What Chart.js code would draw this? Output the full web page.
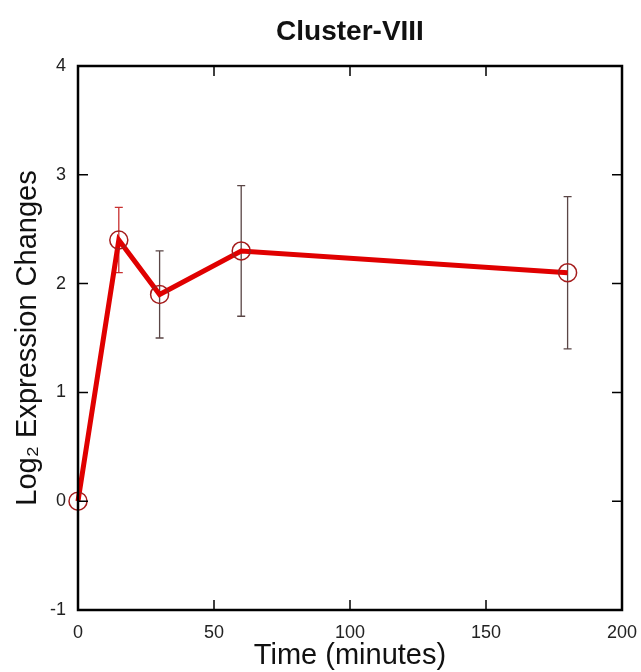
<!DOCTYPE html>
<html>
<head>
<meta charset="utf-8">
<script src="https://cdn.jsdelivr.net/npm/chart.js@4.4.0/dist/chart.umd.min.js"></script>
<style>
  html, body { margin: 0; padding: 0; background: #fff; overflow: hidden; }
  #wrap { width: 641px; height: 672px; }
</style>
</head>
<body>
<div id="wrap"><canvas id="myChart"></canvas></div>
<script>
// time points (minutes) and mean log2 change with error half-widths
const times = [0, 15, 30, 60, 180];
const meanChange = [0, 2.4, 1.9, 2.3, 2.1];
const errorSize = [0, 0.3, 0.4, 0.6, 0.7];
const xTicks = [0, 50, 100, 150, 200];
const yTicks = [-1, 0, 1, 2, 3, 4];

const errorBars = {
    id: 'errorBars',
    beforeDatasetsDraw(chart) {
        const ctx = chart.ctx;
        const x = chart.scales.x;
        const y = chart.scales.y;
        ctx.save();
        ctx.lineWidth = 1.3;
        for (let i = 0; i < times.length; i++) {
            if (!errorSize[i]) continue;
            const px = x.getPixelForValue(times[i]);
            const top = y.getPixelForValue(meanChange[i] + errorSize[i]);
            const bot = y.getPixelForValue(meanChange[i] - errorSize[i]);
            ctx.strokeStyle = i === 1 ? '#c83030' : '#5a4646';
            ctx.beginPath();
            ctx.moveTo(px, top); ctx.lineTo(px, bot);
            ctx.moveTo(px - 4, top); ctx.lineTo(px + 4, top);
            ctx.moveTo(px - 4, bot); ctx.lineTo(px + 4, bot);
            ctx.stroke();
        }
        ctx.restore();
    }
};

// box frame with inward ticks on all four sides
const frame = {
    id: 'frame',
    afterDraw(chart) {
        const ctx = chart.ctx;
        const a = chart.chartArea;
        const x = chart.scales.x;
        const y = chart.scales.y;
        ctx.save();
        ctx.strokeStyle = '#000';
        ctx.lineWidth = 1.5;
        ctx.beginPath();
        xTicks.slice(1, -1).forEach(v => {
            const px = x.getPixelForValue(v);
            ctx.moveTo(px, a.top); ctx.lineTo(px, a.top + 10);
            ctx.moveTo(px, a.bottom); ctx.lineTo(px, a.bottom - 10);
        });
        yTicks.slice(1, -1).forEach(v => {
            const py = y.getPixelForValue(v);
            ctx.moveTo(a.left, py); ctx.lineTo(a.left + 10, py);
            ctx.moveTo(a.right, py); ctx.lineTo(a.right - 10, py);
        });
        ctx.stroke();
        ctx.lineWidth = 2.5;
        ctx.strokeRect(a.left, a.top, a.right - a.left, a.bottom - a.top);
        ctx.restore();
    }
};

const ctx = document.getElementById('myChart');

new Chart(ctx, {
    type: 'scatter',
    data: {
        datasets: [{
            label: 'Cluster-VIII',
            data: times.map((t, i) => ({ x: t, y: meanChange[i] })),
            showLine: true,
            borderColor: '#e00000',
            borderWidth: 5,
            pointRadius: 9,
            pointBorderWidth: 1.5,
            pointBorderColor: '#a51c1c',
            pointBackgroundColor: 'rgba(0,0,0,0)',
            clip: false
        }]
    },
    options: {
        responsive: true,
        maintainAspectRatio: false,
        animation: false,
        layout: {
            padding: { left: 0, right: 19, top: 0, bottom: 0 }
        },
        plugins: {
            legend: { display: false },
            tooltip: { enabled: false },
            title: {
                display: true,
                fullSize: false,
                text: 'Cluster-VIII',
                color: '#111',
                font: { family: 'Liberation Sans, Arial', size: 28, weight: 'bold', lineHeight: 1.2 },
                padding: { top: 15, bottom: 17.4 }
            }
        },
        scales: {
            x: {
                type: 'linear',
                min: 0,
                max: 200,
                afterBuildTicks: s => { s.ticks = xTicks.map(v => ({ value: v })); },
                afterFit: s => { s.height = 62; s.paddingLeft = 0; s.paddingRight = 0; },
                grid: { display: false, drawTicks: false },
                border: { display: false },
                ticks: {
                    padding: 12,
                    color: '#222',
                    font: { family: 'Liberation Sans, Arial', size: 18 }
                },
                title: {
                    display: true,
                    text: 'Time (minutes)',
                    color: '#111',
                    font: { family: 'Liberation Sans, Arial', size: 29, lineHeight: 1.1 },
                    padding: { top: 0, bottom: 0 }
                }
            },
            y: {
                min: -1,
                max: 4,
                afterBuildTicks: s => { s.ticks = yTicks.map(v => ({ value: v })); },
                afterFit: s => { s.width = 78; s.paddingTop = 0; s.paddingBottom = 0; },
                grid: { display: false, drawTicks: false },
                border: { display: false },
                ticks: {
                    padding: 12,
                    color: '#222',
                    font: { family: 'Liberation Sans, Arial', size: 18 }
                },
                title: {
                    display: true,
                    text: 'Log\u2082 Expression Changes',
                    color: '#111',
                    font: { family: 'Liberation Sans, Arial', size: 29, lineHeight: 1.2 },
                    padding: { top: 11, bottom: 0 }
                }
            }
        }
    },
    plugins: [errorBars, frame]
});
</script>
</body>
</html>
